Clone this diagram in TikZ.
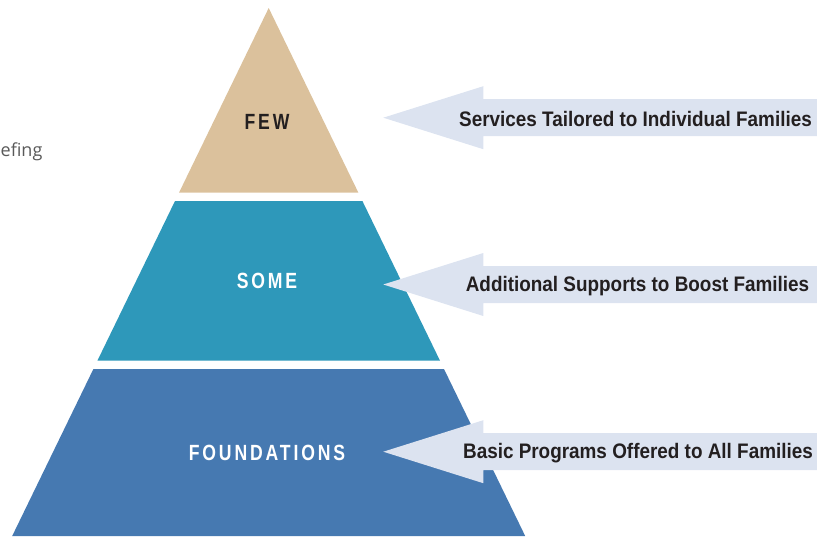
\documentclass[tikz,border=0pt]{standalone}
\usepackage{fontspec}
\setmainfont{Liberation Sans}
\newfontfamily\labelfont[FakeStretch=0.9]{Liberation Sans}
\newfontfamily\tierfont[FakeStretch=0.8,LetterSpace=13]{Liberation Sans}
\newfontfamily\sidefont{Open Sans}
\definecolor{fewtan}{HTML}{DBC19C}
\definecolor{someteal}{HTML}{2E98BA}
\definecolor{baseblue}{HTML}{4679B1}
\definecolor{arrowfill}{HTML}{DCE3F0}
\definecolor{darktext}{HTML}{231F20}

\begin{document}
\begin{tikzpicture}[x=1pt,y=-1pt,
                    tier/.style={font=\tierfont\bfseries\fontsize{22}{24}\selectfont,text=white,inner sep=0pt},
                    side/.style={font=\labelfont\bfseries\fontsize{21}{23}\selectfont,text=darktext,inner sep=0pt},
                    pointer/.style={fill=arrowfill,draw=none}]
                    \useasboundingbox (0,0) rectangle (817,536);
                    \clip (0,0) rectangle (817,536);

                    % pyramid
                    \fill[fewtan] (268.7,8) -- (358.4,192.7) -- (179,192.7) -- cycle;
                    \fill[someteal] (175,201) -- (362.4,201) -- (440,360.7) -- (97.4,360.7) -- cycle;
                    \fill[baseblue] (93.4,369) -- (444,369) -- (525.2,536) -- (12.2,536) -- cycle;

                    \node[tier,text=darktext] (few) at (267,121.7) {FEW};
                    \node[tier] (some) at (267,281.3) {SOME};
                    \node[tier] (found) at (267,453) {FOUNDATIONS};

                    % pointers
                    \coordinate (tipfew) at (383.3,117.7);
                    \coordinate (tipsome) at (383.3,284.5);
                    \coordinate (tipfound) at (383.3,451.7);

                    \fill[pointer] (tipfew) -- ++(100,-31.5) -- ++(0,13) -- ++(360,0) -- ++(0,37) -- ++(-360,0) -- ++(0,13) -- cycle;
                    \fill[pointer] (tipsome) -- ++(100,-31.5) -- ++(0,13) -- ++(360,0) -- ++(0,37) -- ++(-360,0) -- ++(0,13) -- cycle;
                    \fill[pointer] (tipfound) -- ++(100,-31.5) -- ++(0,13) -- ++(360,0) -- ++(0,37) -- ++(-360,0) -- ++(0,13) -- cycle;

                    \node[side] (txtfew) at (635.5,118.5) {Services Tailored to Individual Families};
                    \node[side] (txtsome) at (637.5,286) {Additional Supports to Boost Families};
                    \node[side] (txtfound) at (638,453) {Basic Programs Offered to All Families};

                    \node[font=\sidefont\fontsize{18}{20}\selectfont,text=black!65,anchor=base west,inner sep=0pt] (brief) at (0.5,156.5) {efing};
                \end{tikzpicture}
\end{document}
